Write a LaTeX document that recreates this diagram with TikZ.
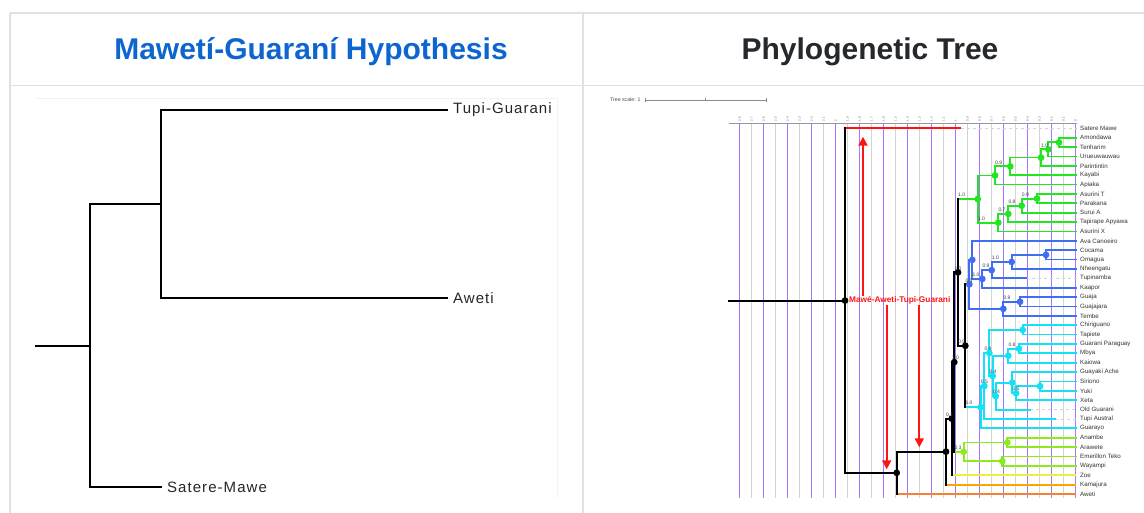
\documentclass[tikz,border=0pt]{standalone}
\usepackage{fontspec}
\setmainfont{Liberation Sans}
\usetikzlibrary{arrows.meta}
\definecolor{tgreen}{RGB}{34,230,34}
\definecolor{tblue}{RGB}{64,110,240}
\definecolor{tcyan}{RGB}{20,225,245}
\definecolor{tlime}{RGB}{140,235,30}
\definecolor{tyellow}{RGB}{235,240,60}
\definecolor{torange}{RGB}{255,165,0}
\definecolor{taweti}{RGB}{245,130,50}
\definecolor{tred}{RGB}{255,20,20}
\definecolor{gpurple}{RGB}{165,120,255}
\definecolor{ggray}{RGB}{212,212,212}
\definecolor{tblueT}{RGB}{13,102,208}
\definecolor{tdark}{RGB}{37,41,46}
\definecolor{border}{RGB}{222,226,230}
\begin{document}
\begin{tikzpicture}[x=1pt,y=-1pt,
  bline/.style={black,line width=2pt,line cap=rect},
  cgreen/.style={tgreen,line width=1.8pt,line cap=rect},
  cblue/.style={tblue,line width=1.8pt,line cap=rect},
  ccyan/.style={tcyan,line width=1.8pt,line cap=rect},
  clime/.style={tlime,line width=1.8pt,line cap=rect},
  leaflab/.style={font=\fontsize{6.2}{6.2}\selectfont,text=black!80,anchor=west,inner sep=0pt},
  boot/.style={font=\fontsize{5}{5}\selectfont,text=black!75,anchor=south west,inner sep=0pt},
  ticklab/.style={font=\fontsize{3}{3}\selectfont,text=black!65,rotate=90,anchor=west,inner sep=0pt},
  ext/.style={ggray,line width=0.6pt,dashed},
  gridp/.style={draw=gpurple,line width=1.2pt},
  gridg/.style={draw=ggray,line width=1.2pt},
  redarrow/.style={tred,line width=2pt,-{Triangle[width=9pt,length=9pt]}},
  ltree/.style={black,line width=2.4pt,line cap=rect},
  llab/.style={font=\fontsize{15}{15}\selectfont\addfontfeature{LetterSpace=7},text=black!85,anchor=west,inner sep=0pt},
  titleL/.style={font=\fontsize{30}{30}\selectfont\bfseries,anchor=base,inner sep=0pt}
]
\useasboundingbox (0,0) rectangle (1144,513);
\fill[white] (0,0) rectangle (1144,513);
% table borders
\draw[border,line width=1.5pt] (10,12.8) -- (1144,12.8);
\draw[border,line width=1.5pt] (10,85.7) -- (1144,85.7);
\draw[border,line width=1.5pt] (10,12.8) -- (10,513);
\draw[border,line width=1.5pt] (583,12.8) -- (583,513);
% titles
\node[titleL,text=tblueT] (t1) at (311,60) {Mawetí-Guaraní Hypothesis};
\node[titleL,text=tdark] (t2) at (870,60) {Phylogenetic Tree};

% ---------------- left tree
\draw[black!5,line width=1pt] (36,98.3) -- (557,98.3) -- (557,498);
\coordinate (lr) at (36,346);
\coordinate (l1) at (90,346);
\coordinate (l2) at (161,204);
\coordinate (ltg) at (447,110);
\coordinate (law) at (447,298);
\coordinate (lsm) at (161,487);
\draw[ltree] (lr) -- (l1);
\draw[ltree] (l1) |- (l2);
\draw[ltree] (l1) |- (lsm);
\draw[ltree] (l2) |- (ltg);
\draw[ltree] (l2) |- (law);
\node[llab] (ntg) at (453,110) {Tupi-Guarani};
\node[llab] (naw) at (453,298) {Aweti};
\node[llab] (nsm) at (167,487) {Satere-Mawe};

% ---------------- right tree: scale and axis
\node[font=\fontsize{5.2}{5.2}\selectfont,text=black!70,anchor=west,inner sep=0pt] (ts) at (610,100) {Tree scale: 1};
\coordinate (sb1) at (645,100);
\coordinate (sb2) at (766,100);
\draw[black!45,line width=0.7pt] (sb1) -- (sb2);
\draw[black!45,line width=0.7pt] (645,98) -- (645,102) (705.5,98.5) -- (705.5,101.5) (766,98) -- (766,102);
\foreach \k in {1,3,...,27}{\path[gridg] ({739.5+12*\k},123.3) -- ({739.5+12*\k},498);}
\foreach \k in {0,2,...,28}{\path[gridp] ({739.5+12*\k},123.3) -- ({739.5+12*\k},498);}
\draw[black!40,line width=0.8pt] (729,123.3) -- (1077,123.3);
\foreach \k/\lab in {0/2.8,1/2.7,2/2.6,3/2.5,4/2.4,5/2.3,6/2.2,7/2.1,8/2,9/1.9,10/1.8,11/1.7,12/1.6,13/1.5,14/1.4,15/1.3,16/1.2,17/1.1,18/1,19/0.9,20/0.8,21/0.7,22/0.6,23/0.5,24/0.4,25/0.3,26/0.2,27/0.1,28/0}{
  \node[ticklab] at ({739.5+12*\k},121.5) {\lab};
}

% leaves
\foreach \i/\ex/\name in {0/960.7/Satere Mawe,1/1076/Amondawa,2/1076/Tenharim,3/1076/Urueuwauwau,4/1076/Parintintin,5/1076/Kayabi,6/1076/Apiaka,7/1076/Asurini T,8/1076/Parakana,9/1076/Surui A,10/1076/Tapirape Apyawa,11/1076/Asurini X,12/1076/Ava Canoeiro,13/1076/Cocama,14/1076/Omagua,15/1076/Nheengatu,16/1026/Tupinamba,17/1076/Kaapor,18/1076/Guaja,19/1076/Guajajara,20/1076/Tembe,21/1076/Chiriguano,22/1076/Tapiete,23/1076/Guarani Paraguay,24/1076/Mbya,25/1076/Kaiowa,26/1076/Guayaki Ache,27/1076/Siriono,28/1076/Yuki,29/1076/Xeta,30/1030/Old Guarani,31/1055/Tupi Austral,32/1076/Guarayo,33/1076/Anambe,34/1076/Arawete,35/1076/Emerillon Teko,36/1076/Wayampi,37/1076/Zoe,38/1076/Kamajura,39/1076/Aweti}{
  \coordinate (L\i) at (\ex,{128.3+9.377*\i});
  \node[leaflab] (T\i) at (1080,{128.3+9.377*\i}) {\name};
}
\foreach \i in {0,16,30,31}{\draw[ext] (L\i) -- (1077,0 |- L\i);}

% internal nodes
\coordinate (G6) at (1059,142.37);
\coordinate (G5) at (1048.3,149.40);
\coordinate (G4) at (1041,157.60);
\coordinate (G3) at (1010.3,166.40);
\coordinate (G1) at (995,175.48);
\coordinate (G9) at (1037,198.63);
\coordinate (G8) at (1021.7,205.66);
\coordinate (G7) at (1008.3,213.87);
\coordinate (G2) at (998.3,222.66);
\coordinate (G0) at (977.7,199.07);
\coordinate (BL5) at (1046,254.89);
\coordinate (BL4) at (1011.7,261.93);
\coordinate (BL3) at (991.7,270.13);
\coordinate (BL2) at (982.3,278.92);
\coordinate (BL1) at (972.3,259.87);
\coordinate (BL7) at (1020,301.78);
\coordinate (BL6) at (1003.3,308.81);
\coordinate (BL0) at (969.3,284.34);
\coordinate (CYa) at (1022.7,329.91);
\coordinate (CYc) at (1019,348.66);
\coordinate (CYb) at (1008.3,355.70);
\coordinate (CYs) at (1040,386.17);
\coordinate (CYx) at (1016,393.20);
\coordinate (CYg) at (1012.3,382.65);
\coordinate (CYo) at (995.7,396.13);
\coordinate (CYm) at (992.7,375.92);
\coordinate (CY2) at (989.3,352.92);
\coordinate (CY1) at (984.3,385.96);
\coordinate (CY0) at (980.7,407.16);
\coordinate (LM1) at (1007.3,442.43);
\coordinate (LM2) at (1002.3,461.19);
\coordinate (LM0) at (963.7,451.81);
\coordinate (B2) at (965.3,345.75);
\coordinate (B1) at (958,272.41);
\coordinate (N5) at (954.3,362.11);
\coordinate (N4) at (951.7,418.68);
\coordinate (N3) at (946,451.66);
\coordinate (A2) at (896.7,472.83);
\coordinate (R) at (845,300.57);
\coordinate (stem) at (729,300.57);

% green clade
\draw[cgreen] (G6) |- (L1) (G6) |- (L2) (G5) |- (G6) (G5) |- (L3) (G4) |- (G5) (G4) |- (L4)
  (G3) |- (G4) (G3) |- (L5) (G1) |- (G3) (G1) |- (L6) (G9) |- (L7) (G9) |- (L8)
  (G8) |- (G9) (G8) |- (L9) (G7) |- (G8) (G7) |- (L10) (G2) |- (G7) (G2) |- (L11)
  (G0) |- (G1) (G0) |- (G2);
% blue clade
\draw[cblue] (BL5) |- (L13) (BL5) |- (L14) (BL4) |- (BL5) (BL4) |- (L15) (BL3) |- (BL4) (BL3) |- (L16)
  (BL2) |- (BL3) (BL2) |- (L17) (BL1) |- (L12) (BL1) |- (BL2) (BL7) |- (L18) (BL7) |- (L19)
  (BL6) |- (BL7) (BL6) |- (L20) (BL0) |- (BL1) (BL0) |- (BL6);
% cyan clade
\draw[ccyan] (CYa) |- (L21) (CYa) |- (L22) (CYc) |- (L23) (CYc) |- (L24) (CYb) |- (CYc) (CYb) |- (L25)
  (CYs) |- (L27) (CYs) |- (L28) (CYx) |- (CYs) (CYx) |- (L29) (CYg) |- (L26) (CYg) |- (CYx)
  (CYo) |- (CYg) (CYo) |- (L30) (CYm) |- (CYb) (CYm) |- (CYo) (CY2) |- (CYa) (CY2) |- (CYm)
  (CY1) |- (CY2) (CY1) |- (L31) (CY0) |- (CY1) (CY0) |- (L32);
% lime clade
\draw[clime] (LM1) |- (L33) (LM1) |- (L34) (LM2) |- (L35) (LM2) |- (L36) (LM0) |- (LM1) (LM0) |- (LM2);
% backbone
\draw[tred,line width=2pt] (R |- L0) -- (L0);
\draw[taweti,line width=2pt] (A2 |- L39) -- (L39);
\draw[torange,line width=2pt] (N3 |- L38) -- (L38);
\draw[tyellow,line width=2pt] (N4 |- L37) -- (L37);
\draw[clime] (N5 |- LM0) -- (LM0);
\draw[cgreen] (B1 |- G0) -- (G0);
\draw[cblue] (B2 |- BL0) -- (BL0);
\draw[ccyan] (B2 |- CY0) -- (CY0);
\draw[bline] (stem) -- (R);
\draw[bline] (R |- L0) -- (R |- A2) -- (A2);
\draw[bline] (A2 |- N3) -- (A2 |- L39);
\draw[bline] (A2 |- N3) -- (N3);
\draw[bline] (N3 |- N4) -- (N3 |- L38);
\draw[bline] (N3 |- N4) -- (N4);
\draw[bline] (N4 |- N5) -- (N4 |- L37);
\draw[bline] (N4 |- N5) -- (N5);
\draw[bline] (N5 |- B1) -- (N5 |- LM0);
\draw[bline] (N5 |- B1) -- (B1);
\draw[bline] (B1 |- G0) -- (B1 |- B2);
\draw[bline] (B1 |- B2) -- (B2);
\draw[bline] (B2 |- BL0) -- (B2 |- CY0);

% dots
\foreach \n in {R,A2,N3,N4,N5,B1,B2}{\fill[black] (\n) circle (3.4);}
\foreach \n in {G0,G1,G2,G3,G4,G5,G6,G7,G8,G9}{\fill[tgreen] (\n) circle (3.4);}
\foreach \n in {BL0,BL1,BL2,BL3,BL4,BL5,BL6,BL7}{\fill[tblue] (\n) circle (3.4);}
\foreach \n in {CY0,CY1,CY2,CYa,CYb,CYc,CYm,CYo,CYg,CYx,CYs}{\fill[tcyan] (\n) circle (3.4);}
\foreach \n in {LM0,LM1,LM2}{\fill[tlime] (\n) circle (3.4);}

% support values
\foreach \px/\py/\v in {958/199.07/1.0, 995/166.40/0.9, 1041/149.40/1.0, 977.7/222.66/1.0, 998.3/213.87/0.7, 1008.3/205.66/0.8, 1021.7/198.63/0.9,
  965.3/284.34/0.5, 972.3/278.92/1.0, 982.3/270.13/0.9, 991.7/261.93/1.0, 1003.3/301.78/0.9,
  965.3/407.16/1.0, 980.7/385.96/0.5, 984.3/352.92/0.4, 989.3/375.92/0.4, 992.7/396.13/0.4, 1012.3/393.20/0.5, 1008.3/348.66/0.8,
  954.3/451.81/0.3, 954.3/272.41/1.0, 958/345.75/0.9, 951.7/362.11/1.0, 946/418.68/0.1}{
  \node[boot] at (\px,\py-2) {\v};
}

% red annotation
\node[font=\fontsize{8.3}{8.3}\selectfont\bfseries,text=tred,anchor=west,inner sep=0pt] (mat) at (849,300.6) {Mawé-Aweti-Tupi-Guarani};
\coordinate (a1) at (863,136.7);
\coordinate (a2) at (886.7,469.3);
\coordinate (a3) at (919.3,447.3);
\draw[redarrow] (mat.north -| a1) -- (a1);
\draw[redarrow] (mat.south -| a2) -- (a2);
\draw[redarrow] (mat.south -| a3) -- (a3);
\end{tikzpicture}
\end{document}
